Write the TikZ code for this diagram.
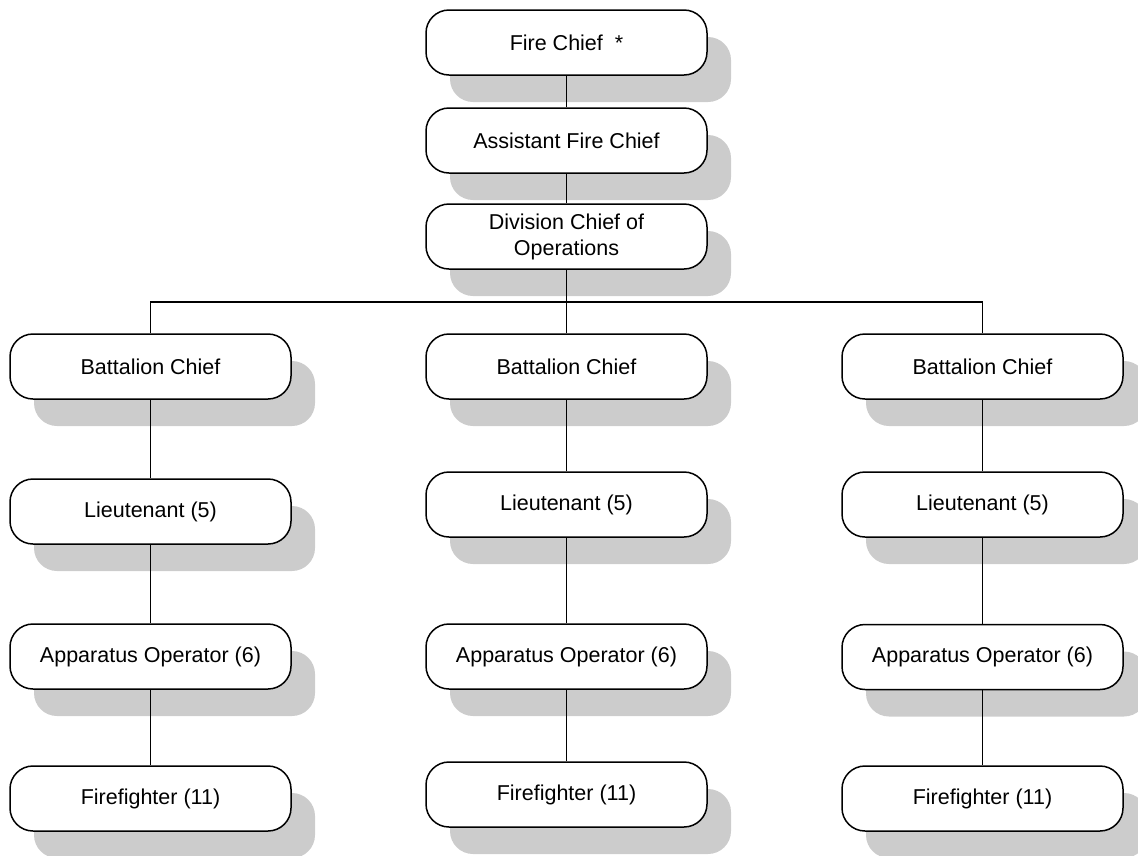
\documentclass[tikz,border=0pt]{standalone}
\usepackage{fontspec}
\setmainfont{Liberation Sans}
\usetikzlibrary{shadows}
\tikzset{
  orgbox/.style={draw=black, fill=white, line width=1.5pt, rounded corners=23pt,
    minimum width=281pt, minimum height=65pt, inner sep=0pt, align=center,
    font=\fontsize{21.5}{26}\selectfont,
    general shadow={fill=shadowgray, draw=none, shadow xshift=24pt, shadow yshift=-27pt}},
  link/.style={draw=black, line width=1.3pt}
}
\definecolor{shadowgray}{HTML}{CCCCCC}
\begin{document}
\begin{tikzpicture}[x=1pt,y=-1pt]
\useasboundingbox (0,0) rectangle (1138,855);
\clip (0,0) rectangle (1138,855);
% top chain
\node[orgbox] (fc) at (566.5,42.5) {Fire Chief \ *};
\node[orgbox] (afc) at (566.5,140.5) {Assistant Fire Chief};
\node[orgbox] (dco) at (566.5,236.5) {Division Chief of\\Operations};
% left column
\node[orgbox] (bc1) at (150.5,366.5) {Battalion Chief};
\node[orgbox] (lt1) at (150.5,511.5) {Lieutenant (5)};
\node[orgbox] (ao1) at (150.5,656.5) {Apparatus Operator (6)};
\node[orgbox] (ff1) at (150.5,798.5) {Firefighter (11)};
% middle column
\node[orgbox] (bc2) at (566.5,366.5) {Battalion Chief};
\node[orgbox] (lt2) at (566.5,504.5) {Lieutenant (5)};
\node[orgbox] (ao2) at (566.5,656.5) {Apparatus Operator (6)};
\node[orgbox] (ff2) at (566.5,794.5) {Firefighter (11)};
% right column
\node[orgbox] (bc3) at (982.5,366.5) {Battalion Chief};
\node[orgbox] (lt3) at (982.5,504.5) {Lieutenant (5)};
\node[orgbox] (ao3) at (982.5,657) {Apparatus Operator (6)};
\node[orgbox] (ff3) at (982.5,798.5) {Firefighter (11)};
% bus
\coordinate (bus) at (566.5,302);
% connectors
\draw[link] (fc.south) -- (afc.north);
\draw[link] (afc.south) -- (dco.north);
\draw[link] (dco.south) -- (bc2.north);
\draw[link] (bc1.north) |- (bus) -| (bc3.north);
\draw[link] (bc1.south) -- (lt1.north);
\draw[link] (lt1.south) -- (ao1.north);
\draw[link] (ao1.south) -- (ff1.north);
\draw[link] (bc2.south) -- (lt2.north);
\draw[link] (lt2.south) -- (ao2.north);
\draw[link] (ao2.south) -- (ff2.north);
\draw[link] (bc3.south) -- (lt3.north);
\draw[link] (lt3.south) -- (ao3.north);
\draw[link] (ao3.south) -- (ff3.north);
\end{tikzpicture}
\end{document}
